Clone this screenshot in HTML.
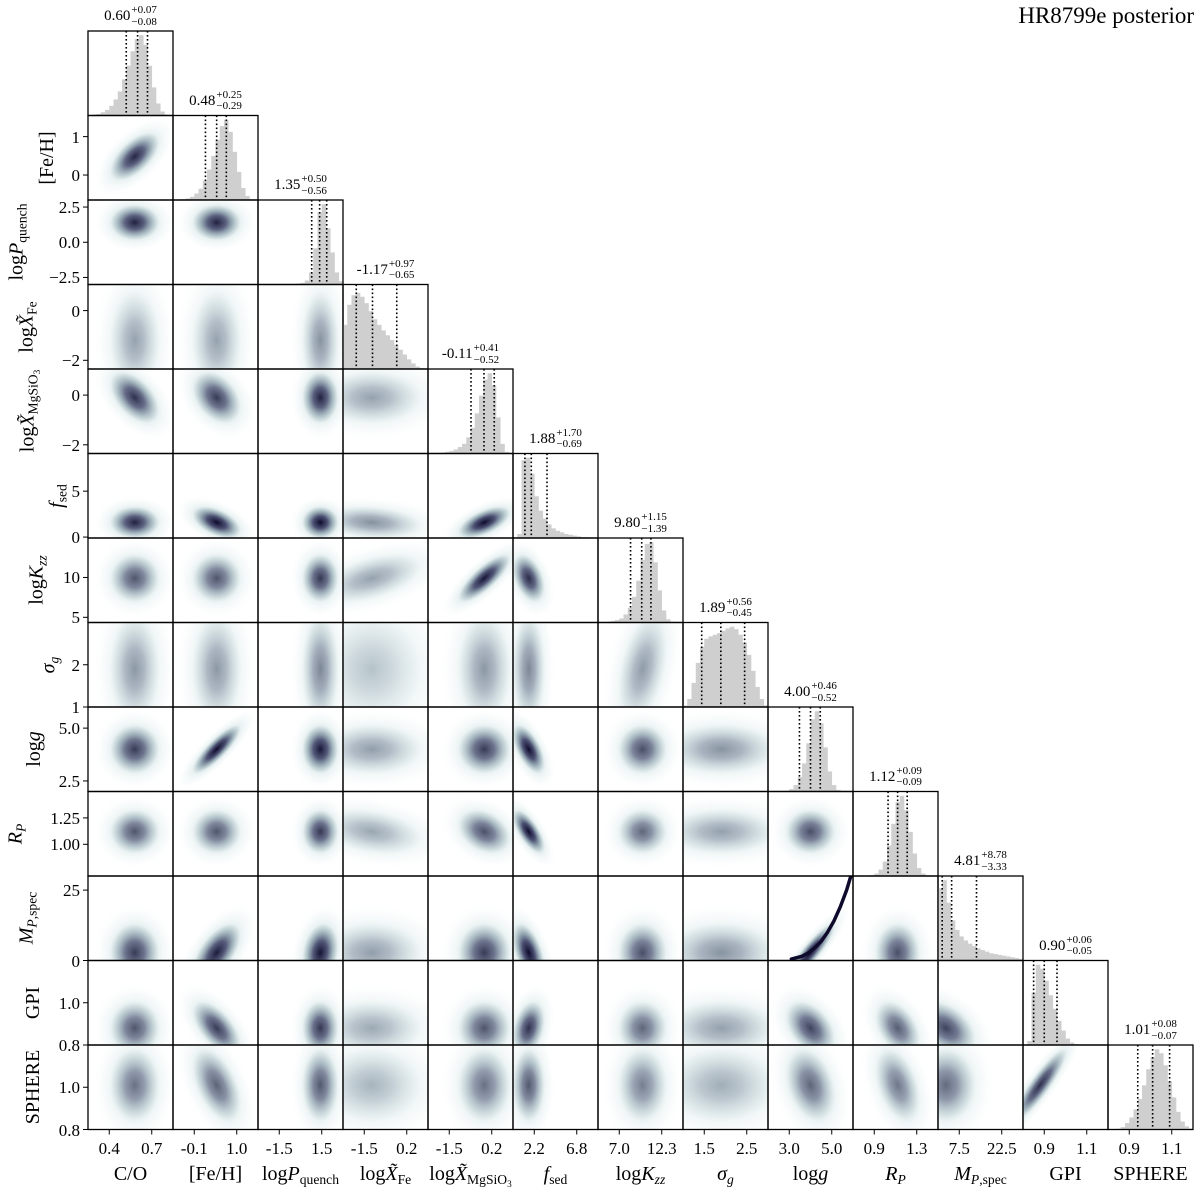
<!DOCTYPE html>
<html><head><meta charset="utf-8">
<style>
html,body{margin:0;padding:0;background:#fff;}
#wrap{position:relative;width:1200px;height:1192px;overflow:hidden;font-family:"Liberation Serif","DejaVu Serif",serif;color:#000;}
svg{position:absolute;left:0;top:0;}
.lbl{position:absolute;white-space:nowrap;line-height:1;}
.tk{font-size:17px;}
.ax{font-size:20px;}
.ttl{font-size:15px;}
.ss{display:inline-block;vertical-align:middle;font-size:11px;line-height:1.05;text-align:left;margin-left:1px;}
.ss span{display:block;}
sub{font-size:0.68em;vertical-align:-0.3em;}
i{font-style:italic;}
</style></head>
<body>
<div id="wrap">
<svg id="plot" width="1200" height="1192">
<defs>
<radialGradient id="halo"><stop offset="0" stop-color="#8fb3b8" stop-opacity="0.85"/><stop offset="0.5" stop-color="#bcd5d7" stop-opacity="0.55"/><stop offset="1" stop-color="#eef6f6" stop-opacity="0"/></radialGradient>
<radialGradient id="core"><stop offset="0" stop-color="#0e0a2c" stop-opacity="1"/><stop offset="0.4" stop-color="#2e2e58" stop-opacity="0.8"/><stop offset="0.75" stop-color="#5a7586" stop-opacity="0.35"/><stop offset="1" stop-color="#7a98a2" stop-opacity="0"/></radialGradient>
</defs>
</svg>
<div class="lbl" style="right:6px;top:4px;font-size:23px;">HR8799e posterior</div>
</div>
<script>
const paramLabels=['C/O','[Fe/H]','log<i>P</i><sub>quench</sub>','log<i>X̃</i><sub>Fe</sub>','log<i>X̃</i><sub>MgSiO<sub>3</sub></sub>','<i>f</i><sub>sed</sub>','log<i>K</i><sub><i>zz</i></sub>','<i>σ</i><sub><i>g</i></sub>','log<i>g</i>','<i>R</i><sub><i>P</i></sub>','<i>M</i><sub><i>P</i>,spec</sub>','GPI','SPHERE'];
const medians=[0.60,0.48,1.35,-1.17,-0.11,1.88,9.80,1.89,4.00,1.12,4.81,0.90,1.01];
const errPlus=[0.07,0.25,0.50,0.97,0.41,1.70,1.15,0.56,0.46,0.09,8.78,0.06,0.08];
const errMinus=[0.08,0.29,0.56,0.65,0.52,0.69,1.39,0.45,0.52,0.09,3.33,0.05,0.07];
const medText=['0.60','0.48','1.35','-1.17','-0.11','1.88','9.80','1.89','4.00','1.12','4.81','0.90','1.01'];
const plusText=['+0.07','+0.25','+0.50','+0.97','+0.41','+1.70','+1.15','+0.56','+0.46','+0.09','+8.78','+0.06','+0.08'];
const minusText=['−0.08','−0.29','−0.56','−0.65','−0.52','−0.69','−1.39','−0.45','−0.52','−0.09','−3.33','−0.05','−0.07'];
const rangeMin=[0.25,-0.65,-3,-2.35,-2.35,-0.1,4.35,1.0,2.0,0.7,0,0.8,0.8];
const rangeMax=[0.85,1.55,3,1.05,1.05,9.1,14.95,3.0,6.0,1.5,30,1.2,1.2];
const xTick1=[0.4,-0.1,-1.5,-1.5,-1.5,2.2,7.0,1.5,3.0,0.9,7.5,0.9,0.9];
const xTick2=[0.7,1.0,1.5,0.2,0.2,6.8,12.3,2.5,5.0,1.3,22.5,1.1,1.1];
const xTick1Text=['0.4','-0.1','-1.5','-1.5','-1.5','2.2','7.0','1.5','3.0','0.9','7.5','0.9','0.9'];
const xTick2Text=['0.7','1.0','1.5','0.2','0.2','6.8','12.3','2.5','5.0','1.3','22.5','1.1','1.1'];
const yTickVals=[[],[1,0],[2.5,0,-2.5],[0,-2],[0,-2],[5,0],[10,5],[2,1],[5.0,2.5],[1.25,1.00],[25,0],[1.0,0.8],[1.0,0.8]];
const yTickText=[[],['1','0'],['2.5','0.0','−2.5'],['0','−2'],['0','−2'],['5','0'],['10','5'],['2','1'],['5.0','2.5'],['1.25','1.00'],['25','0'],['1.0','0.8'],['1.0','0.8']];
const yLabelX=[0,47,18,28,30,58,38,50,34,17,28,33,33];
const hist0=[0,0.01,0.02,0.04,0.07,0.12,0.2,0.3,0.45,0.62,0.8,0.95,1,0.88,0.62,0.35,0.15,0.05,0.01,0];
const hist1=[0,0,0.01,0.02,0.04,0.08,0.14,0.24,0.38,0.55,0.75,0.92,1,0.85,0.6,0.35,0.15,0.05,0.01,0];
const hist2=[0,0,0,0,0,0,0,0,0,0.01,0.02,0.05,0.15,0.45,0.9,1,0.7,0.4,0.15,0.04];
const hist3=[0.55,0.8,0.92,0.95,0.9,0.82,0.72,0.62,0.55,0.48,0.42,0.36,0.3,0.24,0.18,0.12,0.07,0.03,0.01,0];
const hist4=[0,0,0,0.01,0.02,0.03,0.05,0.08,0.12,0.2,0.32,0.5,0.72,0.92,1,0.85,0.45,0.12,0.02,0];
const hist5=[0,0.05,0.97,1,0.8,0.52,0.34,0.24,0.17,0.12,0.09,0.07,0.05,0.04,0.03,0.02,0.01,0.01,0,0];
const hist6=[0,0,0.01,0.02,0.03,0.05,0.1,0.18,0.32,0.52,0.78,0.98,1,0.75,0.4,0.15,0.04,0.01,0,0];
const hist7=[0.02,0.1,0.3,0.55,0.75,0.85,0.88,0.9,0.92,0.95,0.98,1,0.97,0.9,0.8,0.65,0.45,0.25,0.1,0.02];
const hist8=[0,0,0,0,0.01,0.03,0.08,0.18,0.35,0.6,0.9,1,0.85,0.55,0.25,0.08,0.02,0,0,0];
const hist9=[0,0,0,0,0.01,0.03,0.08,0.18,0.38,0.65,0.92,1,0.82,0.55,0.28,0.1,0.03,0.01,0,0];
const hist10=[0.9,1,0.72,0.5,0.38,0.3,0.25,0.21,0.18,0.15,0.13,0.11,0.09,0.08,0.07,0.06,0.05,0.04,0.03,0.02];
const hist11=[0,0.05,0.65,1,0.95,0.8,0.62,0.45,0.3,0.18,0.08,0.03,0.01,0,0,0,0,0,0,0];
const hist12=[0,0,0.01,0.03,0.08,0.15,0.25,0.38,0.55,0.75,0.9,1,0.95,0.8,0.6,0.4,0.22,0.1,0.04,0.01];
const hists=[hist0,hist1,hist2,hist3,hist4,hist5,hist6,hist7,hist8,hist9,hist10,hist11,hist12];
const blobCenter=[0.58,0.48,1.4,-1.2,-0.1,1.6,9.9,1.9,4.0,1.12,2.8,0.88,1.01];
const blobSigma=[0.075,0.27,0.55,0.85,0.45,0.75,1.3,0.55,0.5,0.09,4.5,0.055,0.075];
const blobDark=[0.8,0.8,1.0,0.3,0.8,1.0,0.7,0.35,0.85,0.7,0.85,0.7,0.55];
const corrPairs=[[1,0,0.6],[4,0,-0.5],[4,1,-0.35],[5,1,-0.5],[5,3,-0.2],[5,4,0.6],[6,3,0.5],[6,4,0.8],[6,5,-0.4],[7,6,0.4],[8,1,0.85],[8,5,-0.6],[9,3,-0.3],[9,4,-0.3],[9,5,-0.7],[10,1,0.6],[10,2,0.2],[10,5,-0.5],[10,8,0.9],[11,1,-0.6],[11,5,0.3],[11,8,-0.4],[11,9,-0.4],[11,10,-0.4],[12,1,-0.5],[12,8,-0.3],[12,9,-0.4],[12,11,0.9]];
const curveLogg=[3.1,3.3,3.6,3.9,4.2,4.5,4.8,5.1,5.4,5.7,5.9];
const curveMass=[0.5,0.9,1.5,2.7,4.5,6.8,10,14,19,25,30];

const NS='http://www.w3.org/2000/svg';
const svg=document.getElementById('plot');
const wrap=document.getElementById('wrap');
const L=88,T=31,W=85,H=84.5,N=13;
function sx(k,v){return L+k*W+(v-rangeMin[k])/(rangeMax[k]-rangeMin[k])*W;}
function sy(r,k,v){return T+(r+1)*H-(v-rangeMin[k])/(rangeMax[k]-rangeMin[k])*H;}
function el(tag,parent){const e=document.createElementNS(NS,tag);(parent||svg).appendChild(e);return e;}
function corrOf(i,j){for(const p of corrPairs){if(p[0]===i&&p[1]===j)return p[2];}return 0;}
const defs=svg.querySelector('defs');
for(let i=0;i<N;i++){
  for(let j=0;j<=i;j++){
    const px=L+j*W,py=T+i*H;
    const cp=el('clipPath',defs);cp.setAttribute('id','c'+i+'_'+j);
    const cr=el('rect',cp);cr.setAttribute('x',px);cr.setAttribute('y',py);cr.setAttribute('width',W);cr.setAttribute('height',H);
    const g=el('g');g.setAttribute('clip-path','url(#c'+i+'_'+j+')');
    if(i===j){
      
      
      const h=hists[i],nb=h.length,bw=(rangeMax[i]-rangeMin[i])/nb;
      for(let b=0;b<nb;b++){
        if(h[b]<=0)continue;
        const x0=sx(i,rangeMin[i]+b*bw),x1=sx(i,rangeMin[i]+(b+1)*bw);
        const hh=h[b]*0.95*H;
        const r=el('rect',g);
        r.setAttribute('x',x0);r.setAttribute('y',py+H-hh);r.setAttribute('width',x1-x0+0.3);r.setAttribute('height',hh);r.setAttribute('fill','#cfcfcf');
        
        
      }
      const qs=[medians[i]-errMinus[i],medians[i],medians[i]+errPlus[i]];
      for(const q of qs){
        const ln=el('line',g);const xx=sx(i,q);
        ln.setAttribute('x1',xx);ln.setAttribute('x2',xx);ln.setAttribute('y1',py);ln.setAttribute('y2',py+H);
        ln.setAttribute('stroke','#000');ln.setAttribute('stroke-width','1.6');ln.setAttribute('stroke-dasharray','1.6,2.4');
        
        
      }
      const t=document.createElement('div');t.className='lbl ttl';
      t.innerHTML=medText[i]+'<span class="ss"><span>'+plusText[i]+'</span><span>'+minusText[i]+'</span></span>';
      
      
      t.style.left=(px+W/2)+'px';t.style.top=(py-26)+'px';t.style.transform='translateX(-50%)';
      wrap.appendChild(t);
    } else {
      
      
      const rho=corrOf(i,j);
      const cx=sx(j,blobCenter[j]),cy=sy(i,i,blobCenter[i]);
      const sxp=blobSigma[j]/(rangeMax[j]-rangeMin[j])*W,syp=blobSigma[i]/(rangeMax[i]-rangeMin[i])*H;
      const a=sxp*sxp,b=syp*syp,c=-rho*sxp*syp;
      const th=0.5*Math.atan2(2*c,a-b);
      const d=Math.sqrt(((a-b)/2)*((a-b)/2)+c*c);
      const r1=Math.sqrt((a+b)/2+d),r2=Math.sqrt(Math.max((a+b)/2-d,1));
      const dark=Math.min(1,blobDark[i]*blobDark[j]/Math.sqrt(1-rho*rho*0.9)*1.1);
      const deg=th*180/Math.PI;
      const e1=el('ellipse',g);
      e1.setAttribute('cx',cx);e1.setAttribute('cy',cy);e1.setAttribute('rx',r1*3.8);e1.setAttribute('ry',r2*3.8);
      e1.setAttribute('transform','rotate('+deg+' '+cx+' '+cy+')');e1.setAttribute('fill','url(#halo)');e1.setAttribute('opacity',0.5+0.4*dark);
      
      
      const e2=el('ellipse',g);
      e2.setAttribute('cx',cx);e2.setAttribute('cy',cy);e2.setAttribute('rx',r1*2.3);e2.setAttribute('ry',r2*2.3);
      e2.setAttribute('transform','rotate('+deg+' '+cx+' '+cy+')');e2.setAttribute('fill','url(#core)');e2.setAttribute('opacity',dark);
      
      
      if(i===10&&j===8){
        let pts='';
        for(let k=0;k<curveLogg.length;k++){pts+=sx(8,curveLogg[k])+','+sy(10,10,curveMass[k])+' ';}
        const pl=el('polyline',g);
        pl.setAttribute('points',pts);pl.setAttribute('fill','none');pl.setAttribute('stroke','#0e0a2c');pl.setAttribute('stroke-width','3.5');pl.setAttribute('stroke-linecap','round');
        
        
      }
    }
    const fr=el('rect');
    fr.setAttribute('x',px);fr.setAttribute('y',py);fr.setAttribute('width',W);fr.setAttribute('height',H);
    fr.setAttribute('fill','none');fr.setAttribute('stroke','#000');fr.setAttribute('stroke-width','1.3');
    
    
  }
}
const yb=T+N*H;
for(let k=0;k<N;k++){
  const vals=[xTick1[k],xTick2[k]],txt=[xTick1Text[k],xTick2Text[k]];
  for(let m=0;m<2;m++){
    const xx=sx(k,vals[m]);
    const tl=el('line');tl.setAttribute('x1',xx);tl.setAttribute('x2',xx);tl.setAttribute('y1',yb);tl.setAttribute('y2',yb+5);tl.setAttribute('stroke','#000');tl.setAttribute('stroke-width','1');
    
    
    const d=document.createElement('div');d.className='lbl tk';d.textContent=txt[m];
    
    
    d.style.left=xx+'px';d.style.top=(yb+10)+'px';d.style.transform='translateX(-50%)';
    wrap.appendChild(d);
  }
  const a=document.createElement('div');a.className='lbl ax';a.innerHTML=paramLabels[k];
  
  
  a.style.left=(L+k*W+W/2)+'px';a.style.top=(yb+34)+'px';a.style.transform='translateX(-50%)';
  wrap.appendChild(a);
}
for(let r=1;r<N;r++){
  for(let m=0;m<yTickVals[r].length;m++){
    const yy=sy(r,r,yTickVals[r][m]);
    const tl=el('line');tl.setAttribute('x1',L-5);tl.setAttribute('x2',L);tl.setAttribute('y1',yy);tl.setAttribute('y2',yy);tl.setAttribute('stroke','#000');tl.setAttribute('stroke-width','1');
    
    
    const d=document.createElement('div');d.className='lbl tk';d.textContent=yTickText[r][m];
    
    
    d.style.right=(1200-L+8)+'px';d.style.top=(yy-8)+'px';
    wrap.appendChild(d);
  }
  const a=document.createElement('div');a.className='lbl ax';a.innerHTML=paramLabels[r];
  
  
  a.style.left=yLabelX[r]+'px';a.style.top=(T+r*H+H/2)+'px';a.style.transform='translate(-50%,-50%) rotate(-90deg)';
  wrap.appendChild(a);
}
</script>
</body></html>
